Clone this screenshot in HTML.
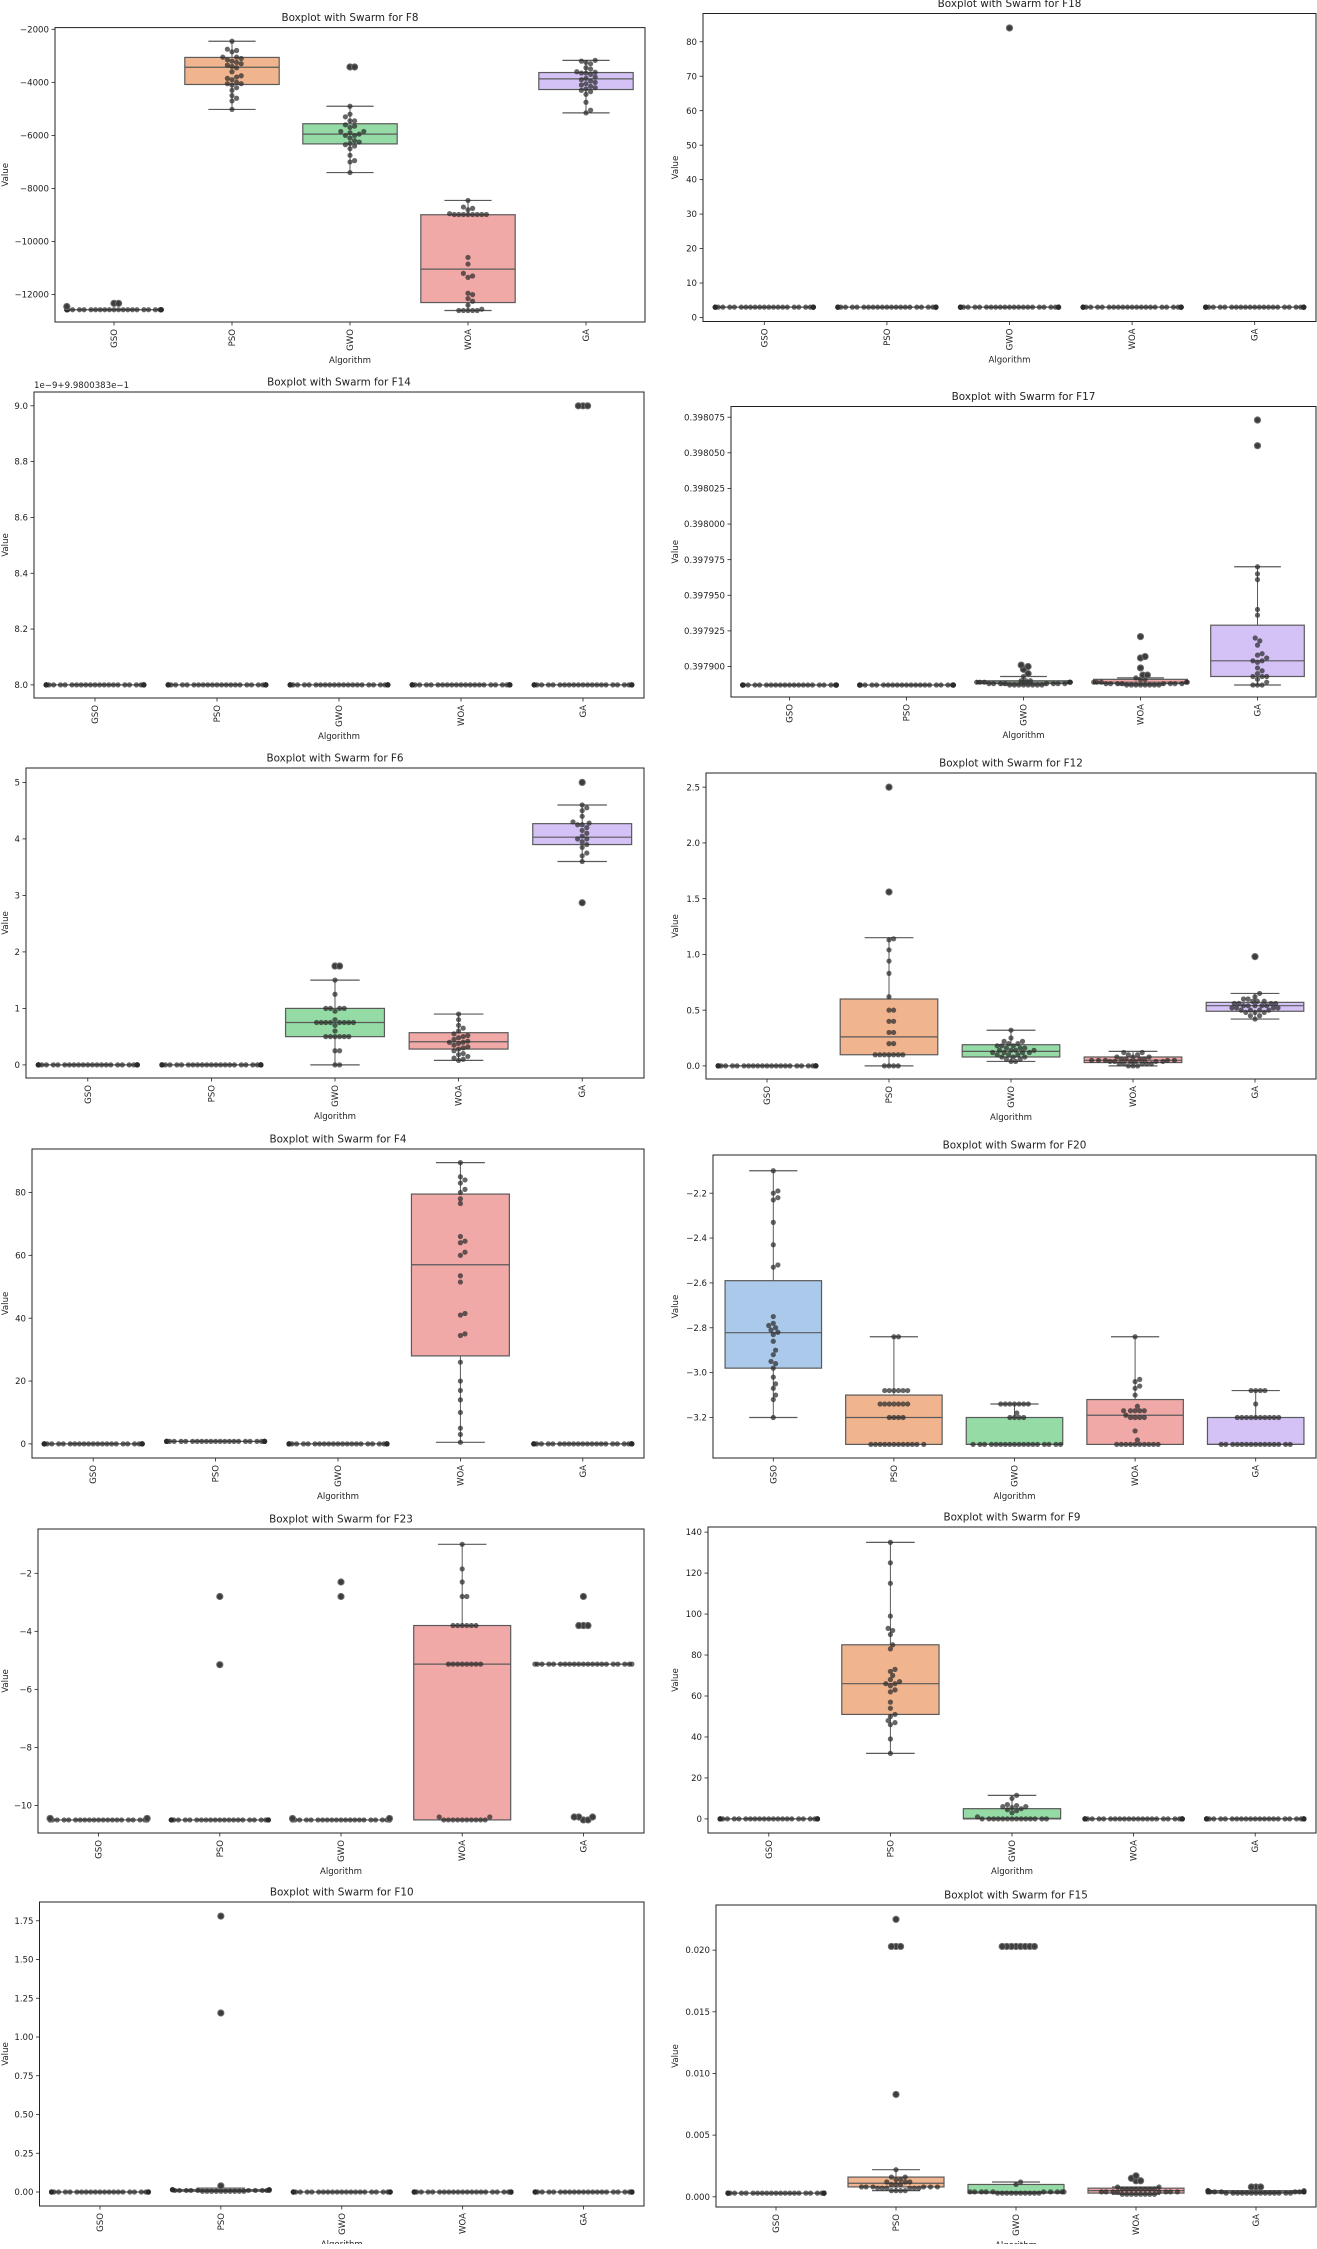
<!DOCTYPE html>
<html><head><meta charset="utf-8">
<style>
html,body{margin:0;padding:0;background:#fff;}
svg text{font-family:"DejaVu Sans","Liberation Sans",sans-serif;fill:#222;}
</style></head>
<body>
<svg id="fig" xmlns="http://www.w3.org/2000/svg" width="1317" height="2244" viewBox="0 0 1317 2244"></svg>
<script>
const categories = ["GSO","PSO","GWO","WOA","GA"];
const boxColors = ["#abc9ea","#f0b58e","#95dba5","#f0a9a7","#d4c2f7"];

// ---- F8 ----
const f8Stats = [[-12570,-12570,-12570,-12570,-12570],[-5020,-4080,-3430,-3060,-2450],[-7400,-6320,-5950,-5560,-4900],[-12600,-12300,-11040,-8990,-8450],[-5150,-4270,-3870,-3630,-3170]];
const f8Points = [
 [[-12570,28],[-12450,1],[-12330,2]],
 [[-2450,1],[-2750,1],[-2800,1],[-2850,1],[-3050,2],[-3100,1],[-3150,1],[-3200,1],[-3250,1],[-3300,1],[-3350,1],[-3400,1],[-3450,1],[-3600,1],[-3750,1],[-3800,1],[-3850,1],[-3900,1],[-4000,1],[-4050,2],[-4100,1],[-4200,1],[-4300,1],[-4500,1],[-4600,1],[-4700,1],[-5020,1]],
 [[-3420,2],[-4900,1],[-5200,1],[-5300,1],[-5450,2],[-5600,1],[-5650,1],[-5700,1],[-5850,2],[-5900,1],[-5950,1],[-6000,2],[-6100,1],[-6200,1],[-6250,1],[-6300,1],[-6350,1],[-6400,1],[-6500,1],[-6750,1],[-6950,1],[-7000,1],[-7400,1]],
 [[-8450,1],[-8700,1],[-8750,1],[-8800,1],[-8950,1],[-8980,8],[-10600,1],[-10850,1],[-11200,1],[-11300,1],[-11350,1],[-11950,1],[-12000,1],[-12150,1],[-12250,1],[-12400,1],[-12550,1],[-12600,5]],
 [[-3170,1],[-3200,1],[-3250,1],[-3300,1],[-3450,1],[-3500,1],[-3600,1],[-3620,1],[-3650,2],[-3700,1],[-3800,1],[-3850,1],[-3900,1],[-3950,1],[-4000,1],[-4050,1],[-4100,1],[-4150,1],[-4200,1],[-4250,1],[-4300,1],[-4350,1],[-4450,1],[-4750,1],[-5050,1],[-5150,1]]
];
const f8Ticks = [-12000,-10000,-8000,-6000,-4000,-2000];
const f8TickLabels = ["−12000","−10000","−8000","−6000","−4000","−2000"];

// ---- F18 ----
const f18Stats = [[3,3,3,3,3],[3,3,3,3,3],[3,3,3,3,3],[3,3,3,3,3],[3,3,3,3,3]];
const f18Points = [[[3,30]],[[3,30]],[[3,29],[84,1]],[[3,30]],[[3,30]]];
const f18Ticks = [0,10,20,30,40,50,60,70,80];
const f18TickLabels = ["0","10","20","30","40","50","60","70","80"];

// ---- F14 ----
const f14Stats = [[8,8,8,8,8],[8,8,8,8,8],[8,8,8,8,8],[8,8,8,8,8],[8,8,8,8,8]];
const f14Points = [[[8,30]],[[8,30]],[[8,30]],[[8,30]],[[8,27],[9,3]]];
const f14Ticks = [8.0,8.2,8.4,8.6,8.8,9.0];
const f14TickLabels = ["8.0","8.2","8.4","8.6","8.8","9.0"];

// ---- F17 ----
const f17Stats = [[0.397887,0.397887,0.397887,0.397887,0.397887],[0.397887,0.397887,0.397887,0.397887,0.397887],[0.397887,0.397888,0.397889,0.39789,0.397893],[0.397887,0.397888,0.397889,0.397891,0.397892],[0.397887,0.397893,0.397904,0.397929,0.39797]];
const f17Points = [
 [[0.397887,30]],
 [[0.397887,30]],
 [[0.397887,8],[0.397888,8],[0.397889,6],[0.39789,3],[0.397893,1],[0.397895,1],[0.397898,1],[0.3979,1],[0.397901,1]],
 [[0.397887,8],[0.397888,8],[0.397889,5],[0.397891,2],[0.397892,1],[0.397894,2],[0.397899,1],[0.397906,1],[0.397907,1],[0.397921,1]],
 [[0.397887,3],[0.397889,1],[0.397891,1],[0.397893,3],[0.397895,1],[0.397897,1],[0.397899,1],[0.397903,1],[0.397904,2],[0.397906,1],[0.397908,1],[0.397909,1],[0.397915,1],[0.397918,1],[0.39792,1],[0.397936,1],[0.39794,1],[0.397961,1],[0.397965,1],[0.39797,1],[0.398055,1],[0.398073,1]]
];
const f17Ticks = [0.3979,0.397925,0.39795,0.397975,0.398,0.398025,0.39805,0.398075];
const f17TickLabels = ["0.397900","0.397925","0.397950","0.397975","0.398000","0.398025","0.398050","0.398075"];

// ---- F6 ----
const f6Stats = [[0,0,0,0,0],[0,0,0,0,0],[0,0.5,0.75,1.0,1.5],[0.08,0.28,0.41,0.57,0.9],[3.6,3.9,4.03,4.27,4.6]];
const f6Points = [
 [[0,30]],[[0,30]],
 [[0,2],[0.25,2],[0.5,6],[0.6,1],[0.7,1],[0.75,8],[0.8,1],[0.95,1],[1.0,4],[1.25,1],[1.5,1],[1.75,2]],
 [[0.08,1],[0.1,1],[0.12,1],[0.15,1],[0.18,1],[0.2,1],[0.25,1],[0.28,1],[0.3,1],[0.32,1],[0.35,1],[0.38,1],[0.4,2],[0.42,1],[0.45,1],[0.48,1],[0.5,1],[0.52,1],[0.55,1],[0.6,1],[0.65,1],[0.7,1],[0.8,1],[0.9,1]],
 [[2.87,1],[3.6,1],[3.7,1],[3.75,1],[3.85,1],[3.9,1],[3.95,1],[4.0,2],[4.05,1],[4.1,1],[4.15,1],[4.2,1],[4.25,2],[4.28,1],[4.3,1],[4.4,1],[4.5,1],[4.55,1],[4.6,1],[5.0,1]]
];
const f6Ticks = [0,1,2,3,4,5];
const f6TickLabels = ["0","1","2","3","4","5"];

// ---- F12 ----
const f12Stats = [[0,0,0,0,0],[0,0.1,0.26,0.6,1.15],[0.04,0.08,0.13,0.19,0.32],[0,0.03,0.05,0.08,0.13],[0.42,0.49,0.54,0.57,0.65]];
const f12Points = [
 [[0,30]],
 [[0,4],[0.1,7],[0.2,2],[0.3,2],[0.4,2],[0.5,2],[0.62,1],[0.83,1],[0.94,1],[1.04,1],[1.13,1],[1.14,1],[1.56,1],[2.5,1]],
 [[0.04,2],[0.06,2],[0.08,3],[0.1,3],[0.12,4],[0.14,4],[0.16,3],[0.18,3],[0.2,2],[0.22,2],[0.25,1],[0.32,1]],
 [[0,3],[0.02,5],[0.04,6],[0.05,5],[0.06,4],[0.08,3],[0.1,2],[0.12,2]],
 [[0.42,1],[0.45,2],[0.48,3],[0.5,4],[0.52,4],[0.54,5],[0.56,4],[0.58,3],[0.6,2],[0.62,1],[0.65,1],[0.98,1]]
];
const f12Ticks = [0,0.5,1.0,1.5,2.0,2.5];
const f12TickLabels = ["0.0","0.5","1.0","1.5","2.0","2.5"];

// ---- F4 ----
const f4Stats = [[0,0,0,0,0],[0.8,0.8,0.8,0.8,0.8],[0,0,0,0,0],[0.5,28,57,79.5,89.5],[0,0,0,0,0]];
const f4Points = [
 [[0,30]],[[0.8,30]],[[0,30]],
 [[0.5,1],[3,1],[5,1],[10,1],[14,1],[17,1],[20,1],[26,1],[34.5,1],[35,1],[41,1],[41.5,1],[51.5,1],[53.5,1],[60,1],[61,1],[64,1],[64.5,1],[66,1],[76.5,1],[78,1],[80,1],[81,1],[83,1],[84,1],[85,1],[89.5,1]],
 [[0,30]]
];
const f4Ticks = [0,20,40,60,80];
const f4TickLabels = ["0","20","40","60","80"];

// ---- F20 ----
const f20Stats = [[-3.2,-2.98,-2.822,-2.59,-2.1],[-3.32,-3.32,-3.2,-3.1,-2.84],[-3.32,-3.32,-3.32,-3.2,-3.14],[-3.32,-3.32,-3.19,-3.12,-2.84],[-3.32,-3.32,-3.32,-3.2,-3.08]];
const f20Points = [
 [[-2.1,1],[-2.19,1],[-2.2,1],[-2.22,1],[-2.23,1],[-2.33,1],[-2.43,1],[-2.52,1],[-2.53,1],[-2.75,1],[-2.78,1],[-2.79,1],[-2.8,1],[-2.81,1],[-2.82,1],[-2.83,1],[-2.86,1],[-2.9,1],[-2.92,1],[-2.95,1],[-2.96,1],[-2.98,1],[-3.02,1],[-3.05,1],[-3.07,1],[-3.1,1],[-3.12,1],[-3.2,1]],
 [[-2.84,2],[-3.08,6],[-3.14,7],[-3.2,4],[-3.32,12]],
 [[-3.14,7],[-3.18,1],[-3.2,4],[-3.32,18]],
 [[-2.84,1],[-3.03,1],[-3.04,1],[-3.06,1],[-3.07,1],[-3.1,1],[-3.15,1],[-3.17,5],[-3.19,1],[-3.2,4],[-3.26,1],[-3.3,1],[-3.32,10]],
 [[-3.08,4],[-3.14,1],[-3.2,10],[-3.32,15]]
];
const f20Ticks = [-3.2,-3.0,-2.8,-2.6,-2.4,-2.2];
const f20TickLabels = ["−3.2","−3.0","−2.8","−2.6","−2.4","−2.2"];

// ---- F23 ----
const f23Stats = [[-10.5,-10.5,-10.5,-10.5,-10.5],[-10.5,-10.5,-10.5,-10.5,-10.5],[-10.5,-10.5,-10.5,-10.5,-10.5],[-10.5,-10.5,-5.13,-3.8,-1.0],[-5.13,-5.13,-5.13,-5.13,-5.13]];
const f23Points = [
 [[-10.5,26],[-10.45,4]],
 [[-10.5,28],[-5.15,1],[-2.8,1]],
 [[-10.5,26],[-10.45,2],[-2.8,1],[-2.3,1]],
 [[-10.5,10],[-10.4,2],[-5.13,8],[-3.8,6],[-2.8,2],[-2.3,1],[-1.85,1],[-1.0,1]],
 [[-10.5,2],[-10.4,3],[-5.13,21],[-3.8,3],[-2.8,1]]
];
const f23Ticks = [-10,-8,-6,-4,-2];
const f23TickLabels = ["−10","−8","−6","−4","−2"];

// ---- F9 ----
const f9Stats = [[0,0,0,0,0],[32,51,66,85,135],[0,0,0.3,5,11.5],[0,0,0,0,0],[0,0,0,0,0]];
const f9Points = [
 [[0,30]],
 [[32,1],[39,1],[46,1],[47,1],[48,1],[50,1],[51,1],[54,1],[57,1],[62,1],[63,1],[65,1],[66,2],[67,1],[68,1],[70,1],[72,1],[73,1],[83,1],[85,1],[90,1],[92,1],[93,1],[99,1],[115,1],[125,1],[135,1]],
 [[0,14],[1,1],[3,1],[4,1],[4.5,1],[5,1],[5.5,1],[6,2],[6.5,1],[7,1],[10,1],[11.5,1]],
 [[0,30]],[[0,30]]
];
const f9Ticks = [0,20,40,60,80,100,120,140];
const f9TickLabels = ["0","20","40","60","80","100","120","140"];

// ---- F10 ----
const f10Stats = [[0,0,0,0,0],[0.003,0.005,0.008,0.015,0.025],[0,0,0,0,0],[0,0,0,0,0],[0,0,0,0,0]];
const f10Points = [[[0,30]],[[0.005,10],[0.01,10],[0.015,7],[0.04,1],[1.155,1],[1.78,1]],[[0,30]],[[0,30]],[[0,30]]];
const f10Ticks = [0,0.25,0.5,0.75,1.0,1.25,1.5,1.75];
const f10TickLabels = ["0.00","0.25","0.50","0.75","1.00","1.25","1.50","1.75"];

// ---- F15 ----
const f15Stats = [[0.0003,0.0003,0.0003,0.0003,0.0003],[0.0005,0.0008,0.0011,0.0016,0.0022],[0.0003,0.0003,0.0004,0.001,0.0012],[0.0002,0.0003,0.0005,0.0007,0.0008],[0.0003,0.0003,0.0004,0.0005,0.0005]];
const f15Points = [
 [[0.0003,30]],
 [[0.0005,4],[0.0007,6],[0.0008,6],[0.001,3],[0.0012,3],[0.0014,2],[0.0016,2],[0.0022,1],[0.0083,1],[0.0203,3],[0.0225,1]],
 [[0.0003,10],[0.0004,10],[0.001,1],[0.0012,1],[0.0203,8]],
 [[0.0002,8],[0.0004,8],[0.0006,8],[0.0008,2],[0.0013,2],[0.0015,1],[0.0017,1]],
 [[0.0003,14],[0.0004,10],[0.0005,3],[0.0008,3]]
];
const f15Ticks = [0,0.005,0.01,0.015,0.02];
const f15TickLabels = ["0.000","0.005","0.010","0.015","0.020"];

// layout (axes rectangles in pixels, y-limits)
const panels = [
 {name:"F8",  ax:[55,27.6,645,322],  ylim:[-13033,-1936], stats:f8Stats, pts:f8Points, ticks:f8Ticks, labels:f8TickLabels, ylx:8},
 {name:"F18", ax:[703,13.5,1316,321.5], ylim:[-1.16,88.2], stats:f18Stats, pts:f18Points, ticks:f18Ticks, labels:f18TickLabels, ylx:678},
 {name:"F14", ax:[34,392,644,698], ylim:[7.953,9.0495], stats:f14Stats, pts:f14Points, ticks:f14Ticks, labels:f14TickLabels, ylx:8, offset:"1e−9+9.9800383e−1"},
 {name:"F17", ax:[731,406.5,1316,697], ylim:[0.3978786,0.3980825], stats:f17Stats, pts:f17Points, ticks:f17Ticks, labels:f17TickLabels, ylx:678},
 {name:"F6",  ax:[26,768,644,1078], ylim:[-0.232,5.255], stats:f6Stats, pts:f6Points, ticks:f6Ticks, labels:f6TickLabels, ylx:8},
 {name:"F12", ax:[706,773,1316,1079], ylim:[-0.1175,2.627], stats:f12Stats, pts:f12Points, ticks:f12Ticks, labels:f12TickLabels, ylx:678},
 {name:"F4",  ax:[32,1149,644,1458], ylim:[-4.49,93.84], stats:f4Stats, pts:f4Points, ticks:f4Ticks, labels:f4TickLabels, ylx:8},
 {name:"F20", ax:[713,1155,1316,1458], ylim:[-3.3806,-2.0297], stats:f20Stats, pts:f20Points, ticks:f20Ticks, labels:f20TickLabels, ylx:678},
 {name:"F23", ax:[38,1529,644,1833], ylim:[-10.951,-0.473], stats:f23Stats, pts:f23Points, ticks:f23Ticks, labels:f23TickLabels, ylx:8},
 {name:"F9",  ax:[708,1527,1316,1833], ylim:[-6.88,142.5], stats:f9Stats, pts:f9Points, ticks:f9Ticks, labels:f9TickLabels, ylx:678},
 {name:"F10", ax:[39.5,1902,644,2206], ylim:[-0.0903,1.871], stats:f10Stats, pts:f10Points, ticks:f10Ticks, labels:f10TickLabels, ylx:8},
 {name:"F15", ax:[716,1905,1316,2207], ylim:[-0.000827,0.02366], stats:f15Stats, pts:f15Points, ticks:f15Ticks, labels:f15TickLabels, ylx:678}
];

const NS = "http://www.w3.org/2000/svg";
const svg = document.getElementById("fig");
function mk(tag, attrs, parent){
  const e = document.createElementNS(NS, tag);
  for (const k in attrs) e.setAttribute(k, attrs[k]);
  (parent||svg).appendChild(e);
  return e;
}
const TICK_FS = "8.6", TITLE_FS = "10.4";

panels.forEach(p => {
  const [x0,y0,x1,y1] = p.ax;
  const g = mk("g", {});
  
  
  const yS = v => y1 - (v - p.ylim[0]) / (p.ylim[1] - p.ylim[0]) * (y1 - y0);
  const cw = (x1 - x0) / categories.length;
  const xS = i => x0 + cw * (i + 0.5);

  const t = mk("text", {x:(x0+x1)/2, y:y0-6.5, "text-anchor":"middle", "font-size":TITLE_FS}, g);
  t.textContent = "Boxplot with Swarm for " + p.name;
  
  

  p.ticks.forEach((v, i) => {
    const y = yS(v);
    mk("line", {x1:x0-3.5, x2:x0, y1:y, y2:y, stroke:"#222", "stroke-width":"0.8"}, g);
    const tl = mk("text", {x:x0-6, y:y+3.1, "text-anchor":"end", "font-size":TICK_FS}, g);
    tl.textContent = p.labels[i];
    
    
  });
  if (p.offset) {
    const ot = mk("text", {x:x0, y:y0-4, "font-size":TICK_FS}, g);
    ot.textContent = p.offset;
    
    
  }
  const yl = mk("text", {x:p.ylx, y:(y0+y1)/2, "text-anchor":"middle", "font-size":TICK_FS, transform:`rotate(-90 ${p.ylx} ${(y0+y1)/2})`}, g);
  yl.textContent = "Value";
  
  

  categories.forEach((c, i) => {
    const x = xS(i);
    mk("line", {x1:x, x2:x, y1:y1, y2:y1+3.5, stroke:"#222", "stroke-width":"0.8"}, g);
    const tl = mk("text", {x:x+3, y:y1+7, "text-anchor":"end", "font-size":TICK_FS, transform:`rotate(-90 ${x+3} ${y1+7})`}, g);
    tl.textContent = c;
    
    
  });
  const xl = mk("text", {x:(x0+x1)/2, y:y1+41, "text-anchor":"middle", "font-size":TICK_FS}, g);
  xl.textContent = "Algorithm";
  
  

  const bw = cw * 0.8;
  p.stats.forEach((s, i) => {
    const [lo,q1,med,q3,hi] = s;
    const cx = xS(i);
    const bg = mk("g", {}, g);
    
    
    mk("line", {x1:cx, x2:cx, y1:yS(hi), y2:yS(q3), stroke:"#5a5a5a", "stroke-width":"1"}, bg);
    mk("line", {x1:cx, x2:cx, y1:yS(q1), y2:yS(lo), stroke:"#5a5a5a", "stroke-width":"1"}, bg);
    mk("line", {x1:cx-bw/4, x2:cx+bw/4, y1:yS(hi), y2:yS(hi), stroke:"#5a5a5a", "stroke-width":"1.2"}, bg);
    mk("line", {x1:cx-bw/4, x2:cx+bw/4, y1:yS(lo), y2:yS(lo), stroke:"#5a5a5a", "stroke-width":"1.2"}, bg);
    mk("rect", {x:cx-bw/2, y:yS(q3), width:bw, height:Math.max(0,yS(q1)-yS(q3)), fill:boxColors[i], stroke:"#5a5a5a", "stroke-width":"1.2"}, bg);
    mk("line", {x1:cx-bw/2, x2:cx+bw/2, y1:yS(med), y2:yS(med), stroke:"#5a5a5a", "stroke-width":"1.2"}, bg);
  });

  const r = 2.6, d = 4.6, half = cw * 0.4;
  p.pts.forEach((list, i) => {
    const cx = xS(i);
    const [lo,,,,hi] = p.stats[i];
    const vals = [];
    list.forEach(([v,n]) => { for (let k=0;k<n;k++) vals.push(v); });
    vals.sort((a,b)=>a-b);
    const placed = [];
    let side = 1;
    vals.forEach(v => {
      const y = yS(v);
      let chosen = null;
      for (let step=0; step*d*0.5 <= half; step++) {
        const cands = step===0 ? [0] : [step*d*0.5, -step*d*0.5];
        for (const off of cands) {
          if (placed.every(q => Math.hypot(q.x-off, q.y-y) >= d)) { chosen = off; break; }
        }
        if (chosen !== null) break;
      }
      if (chosen === null) { chosen = side*half; side = -side; }
      placed.push({x:chosen, y:y, v:v});
    });
    placed.forEach(q => {
      const outlier = q.v > hi + 1e-12 || q.v < lo - 1e-12;
      if (outlier) {
        const fl = mk("circle", {cx:cx+q.x, cy:q.y, r:3.6, fill:"#6e6e6e"}, g);
        
        
      }
      const c = mk("circle", {cx:cx+q.x, cy:q.y, r:r, fill:"#2b2b2b", "fill-opacity":"0.72"}, g);
      
      
    });
  });

  const fr = mk("rect", {x:x0, y:y0, width:x1-x0, height:y1-y0, fill:"none", stroke:"#222", "stroke-width":"1"}, g);
  
  
});
</script>
</body></html>
